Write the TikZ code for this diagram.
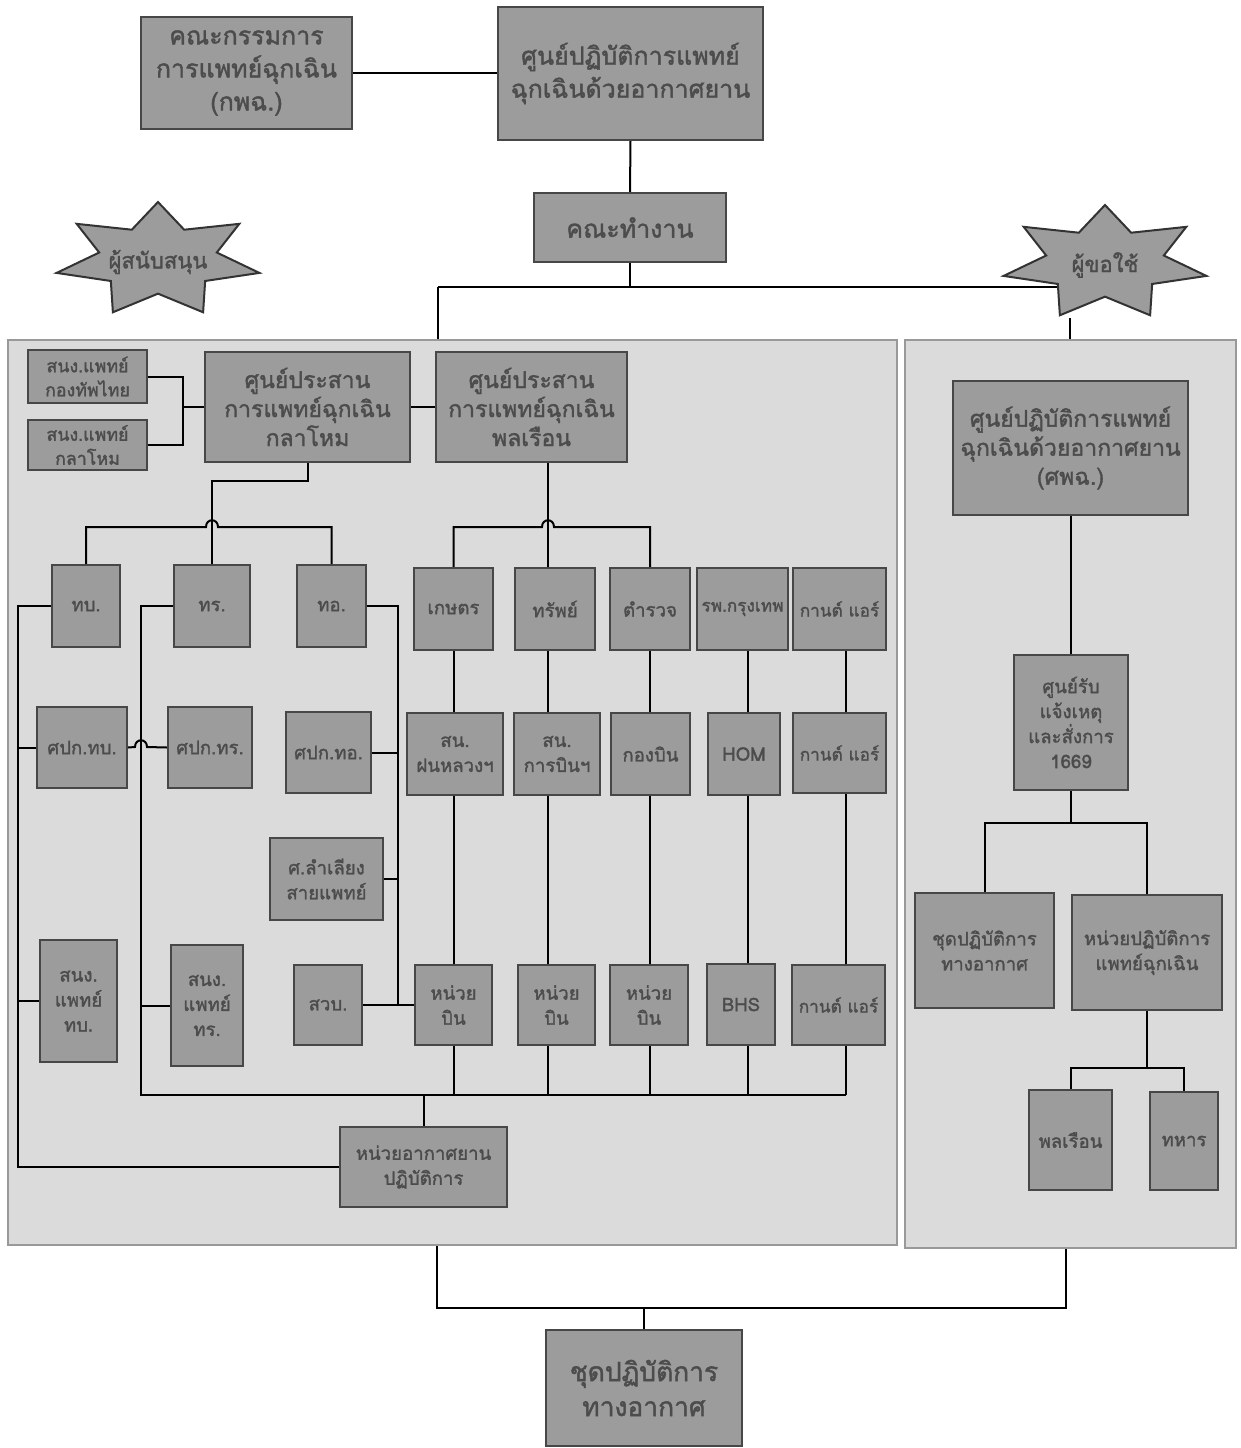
\documentclass[tikz,border=0pt]{standalone}
\usepackage{fontspec}
\newfontfamily\thai[Script=Thai, AutoFakeBold=1.6]{Loma}
\usetikzlibrary{fit,calc}
\pgfdeclarelayer{panels}
\pgfdeclarelayer{lines}
\pgfsetlayers{panels,lines,main}
\definecolor{boxfill}{gray}{0.61}
\definecolor{boxline}{gray}{0.28}
\definecolor{panelfill}{gray}{0.86}
\definecolor{panelline}{gray}{0.6}
\definecolor{txt}{gray}{0.3}
\newcommand\drawstar[2]{\path[starst] plot[variable=\k, samples at={0,...,13}] ({#1+104*(1-0.42*mod(\k,2))*cos(90+\k*360/14)}, {#2-58*(1-0.42*mod(\k,2))*sin(90+\k*360/14)}) -- cycle;}
% box with its label: style, name, x1, y1, x2, y2, text
\newcommand\bx[7]{\node[box, fit={(#3,#4) (#5,#6)}] (#2) {};\node[tx, #1] (#2-t) at (#2.center) {#7};}
\tikzset{
  box/.style={draw=boxline, fill=boxfill, line width=0.8pt, inner sep=0pt},
  tx/.style={inner sep=0pt, align=center, text=txt},
  fbig/.style={font={\thai\bfseries\fontsize{12.5}{16.5}\selectfont}},
  fbot/.style={font={\thai\bfseries\fontsize{13.2}{17.5}\selectfont}},
  fmid/.style={font={\thai\bfseries\fontsize{11.5}{14.5}\selectfont}},
  fsmall/.style={font={\thai\bfseries\fontsize{9.3}{12.5}\selectfont}},
  fsm2/.style={font={\thai\bfseries\fontsize{8.6}{12.5}\selectfont}},
  ftiny/.style={font={\thai\bfseries\fontsize{8.9}{12}\selectfont}},
  panel/.style={draw=panelline, fill=panelfill, line width=1pt, inner sep=0pt},
  starst/.style={draw=black!80, fill=boxfill, line width=1pt},
  startext/.style={text=txt, font={\thai\bfseries\fontsize{11}{13}\selectfont}},
  conn/.style={draw=black, line width=1pt},
}
\begin{document}
\begin{tikzpicture}[x=0.5pt, y=-0.5pt]
\useasboundingbox (0,0) rectangle (1241,1448);
\begin{pgfonlayer}{panels}
\node[panel, fit={(8,340) (897,1245)}] (lp) {};
\node[panel, fit={(905,340) (1236,1248)}] (rp) {};
\end{pgfonlayer}
% top
\bx{fbig}{kpc}{141}{17}{352}{129}{คณะกรรมการ\\การแพทย์ฉุกเฉิน\\(กพฉ.)}
\bx{fbig}{top}{498}{7}{763}{140}{ศูนย์ปฏิบัติการแพทย์\\ฉุกเฉินด้วยอากาศยาน}
\bx{fbig}{team}{534}{193}{726}{262}{คณะทำงาน}
% stars
\drawstar{158}{260}
\node[startext] (sup) at (158,262) {ผู้สนับสนุน};
\drawstar{1105}{263}
\node[startext] (usr) at (1105,265) {ผู้ขอใช้};
\coordinate (hl) at (438,287);
\coordinate (hre) at (1060,287);
\coordinate (usrfoot) at (1070,318);
% left panel top
\bx{ftiny}{ar}{28}{350}{147}{403}{สนง.แพทย์\\กองทัพไทย}
\bx{ftiny}{def}{28}{420}{147}{470}{สนง.แพทย์\\กลาโหม}
\bx{fmid}{mil}{205}{352}{410}{462}{ศูนย์ประสาน\\การแพทย์ฉุกเฉิน\\กลาโหม}
\bx{fmid}{civ}{436}{352}{627}{462}{ศูนย์ประสาน\\การแพทย์ฉุกเฉิน\\พลเรือน}
\coordinate (brk) at (183,407);
% military row 1
\bx{fsmall}{tb}{52}{565}{120}{647}{ทบ.}
\bx{fsmall}{tr}{174}{565}{250}{647}{ทร.}
\bx{fsmall}{to}{297}{565}{366}{647}{ทอ.}
% military row 2
\bx{fsmall}{spk1}{37}{707}{127}{788}{ศปก.ทบ.}
\bx{fsmall}{spk2}{168}{707}{252}{788}{ศปก.ทร.}
\bx{fsmall}{spk3}{286}{712}{371}{793}{ศปก.ทอ.}
\bx{fsmall}{lam}{270}{838}{383}{920}{ศ.ลำเลียง\\สายแพทย์}
% military row 3
\bx{fsmall}{snb}{40}{940}{117}{1062}{สนง.\\แพทย์\\ทบ.}
\bx{fsmall}{snr}{171}{945}{243}{1066}{สนง.\\แพทย์\\ทร.}
\bx{fsmall}{svb}{294}{965}{362}{1045}{สวบ.}
% civil row 1
\bx{fsmall}{kas}{414}{568}{493}{650}{เกษตร}
\bx{fsmall}{sub}{515}{568}{595}{650}{ทรัพย์}
\bx{fsmall}{pol}{610}{568}{690}{650}{ตำรวจ}
\bx{fsm2}{bkk}{697}{568}{788}{650}{รพ.กรุงเทพ}
\bx{fsm2}{kan1}{793}{568}{886}{650}{กานต์ แอร์}
% civil row 2
\bx{fsmall}{fon}{407}{713}{503}{795}{สน.\\ฝนหลวงฯ}
\bx{fsmall}{avi}{514}{713}{600}{795}{สน.\\การบินฯ}
\bx{fsmall}{kb}{611}{713}{690}{795}{กองบิน}
\bx{fsmall}{hom}{708}{713}{780}{795}{HOM}
\bx{fsm2}{kan2}{793}{713}{886}{793}{กานต์ แอร์}
% civil row 3
\bx{fsmall}{un1}{415}{965}{492}{1045}{หน่วย\\บิน}
\bx{fsmall}{un2}{518}{965}{595}{1045}{หน่วย\\บิน}
\bx{fsmall}{un3}{610}{965}{688}{1045}{หน่วย\\บิน}
\bx{fsmall}{bhs}{707}{964}{775}{1045}{BHS}
\bx{fsm2}{kan3}{792}{965}{885}{1045}{กานต์ แอร์}
\bx{fsmall}{air}{340}{1127}{507}{1207}{หน่วยอากาศยาน\\ปฏิบัติการ}
% right panel
\bx{fmid}{ems}{953}{381}{1188}{515}{ศูนย์ปฏิบัติการแพทย์\\ฉุกเฉินด้วยอากาศยาน\\(ศพฉ.)}
\bx{fsmall}{r1669}{1014}{655}{1128}{790}{ศูนย์รับ\\แจ้งเหตุ\\และสั่งการ\\1669}
\bx{fsmall}{ateam}{915}{893}{1054}{1008}{ชุดปฏิบัติการ\\ทางอากาศ}
\bx{fsmall}{emu}{1072}{895}{1222}{1010}{หน่วยปฏิบัติการ\\แพทย์ฉุกเฉิน}
\bx{fsmall}{civr}{1029}{1090}{1112}{1190}{พลเรือน}
\bx{fsmall}{milr}{1150}{1092}{1218}{1190}{ทหาร}
% bottom
\bx{fbot}{bot}{546}{1330}{742}{1446}{ชุดปฏิบัติการ\\ทางอากาศ}
% coordinates
\coordinate (mb) at (212,527);
\coordinate (cb) at (548,527);
\coordinate (L1) at (18,0);
\coordinate (L2) at (141,0);
\coordinate (L3) at (398,0);
\coordinate (BL) at (141,1095);
\coordinate (x1) at (454,1095);
\coordinate (x2) at (548,1095);
\coordinate (x3) at (650,1095);
\coordinate (x4) at (748,1095);
\coordinate (x5) at (846,1095);
\coordinate (hp) at (141,747);
\coordinate (bl2) at (437,1308);
\coordinate (br2) at (1066,1308);
\begin{pgfonlayer}{lines}
\draw[conn] (kpc.east) -- (kpc.east -| top.west);
\draw[conn] (top.south) -- (team.north);
\draw[conn] (team.south) -- (team.south |- hl);
\draw[conn] (hl) -- (hre);
\draw[conn] (hl) -- (hl |- lp.north);
\draw[conn] (usrfoot) -- (usrfoot |- rp.north);
% left top
\draw[conn] (ar.east) -- (ar.east -| brk) -- (def.east -| brk) -- (def.east);
\draw[conn] (brk) -- (brk -| mil.west);
\draw[conn] (mil.east) -- (mil.east -| civ.west);
% mil tree
\draw[conn] (mil.south) -- ++(0,18) -| (tr.north -| mb);
\draw[conn] (tb.north) |- ($(mb)+(-6,0)$) .. controls ($(mb)+(-6,-9)$) and ($(mb)+(6,-9)$) .. ($(mb)+(6,0)$) -| (to.north);
% civ tree
\draw[conn] (civ.south -| cb) -- (sub.north -| cb);
\draw[conn] (kas.north) |- ($(cb)+(-6,0)$) .. controls ($(cb)+(-6,-9)$) and ($(cb)+(6,-9)$) .. ($(cb)+(6,0)$) -| (pol.north);
% civ chains
\draw[conn] (kas.south -| x1) -- (fon.north -| x1);
\draw[conn] (fon.south -| x1) -- (un1.north -| x1);
\draw[conn] (un1.south -| x1) -- (x1);
\draw[conn] (sub.south -| x2) -- (avi.north -| x2);
\draw[conn] (avi.south -| x2) -- (un2.north -| x2);
\draw[conn] (un2.south -| x2) -- (x2);
\draw[conn] (pol.south -| x3) -- (kb.north -| x3);
\draw[conn] (kb.south -| x3) -- (un3.north -| x3);
\draw[conn] (un3.south -| x3) -- (x3);
\draw[conn] (bkk.south -| x4) -- (hom.north -| x4);
\draw[conn] (hom.south -| x4) -- (bhs.north -| x4);
\draw[conn] (bhs.south -| x4) -- (x4);
\draw[conn] (kan1.south -| x5) -- (kan2.north -| x5);
\draw[conn] (kan2.south -| x5) -- (kan3.north -| x5);
\draw[conn] (kan3.south -| x5) -- (x5);
% left verticals
\draw[conn] (tb.west) -| (air.west -| L1) -- (air.west);
\draw[conn] (spk1.west) -- (spk1.west -| L1);
\draw[conn] (snb.west) -- (snb.west -| L1);
\draw[conn] (tr.west) -| (BL) -- (x5);
\draw[conn] (spk1.east) -- ($(hp)+(-6,0)$) .. controls ($(hp)+(-6,-9)$) and ($(hp)+(6,-9)$) .. ($(hp)+(6,0)$) -- (spk2.west);
\draw[conn] (snr.west) -- (snr.west -| L2);
\draw[conn] (to.east) -| (svb.east -| L3);
\draw[conn] (spk3.east) -- (spk3.east -| L3);
\draw[conn] (lam.east) -- (lam.east -| L3);
\draw[conn] (svb.east) -- (un1.west);
\draw[conn] (air.north |- BL) -- (air.north);
% right panel
\draw[conn] (ems.south) -- (ems.south |- r1669.north);
\draw[conn] (r1669.south) -- ++(0,32) coordinate (rj);
\draw[conn] (ateam.north) |- (rj) -| (emu.north);
\draw[conn] (emu.south) -- ++(0,57) coordinate (rk);
\draw[conn] (civr.north) |- (rk) -| (milr.north);
% bottom
\draw[conn] (bl2 |- lp.south) -- (bl2) -- (br2) -- (br2 |- rp.south);
\draw[conn] (bot.north |- bl2) -- (bot.north);
\end{pgfonlayer}
\end{tikzpicture}
\end{document}
